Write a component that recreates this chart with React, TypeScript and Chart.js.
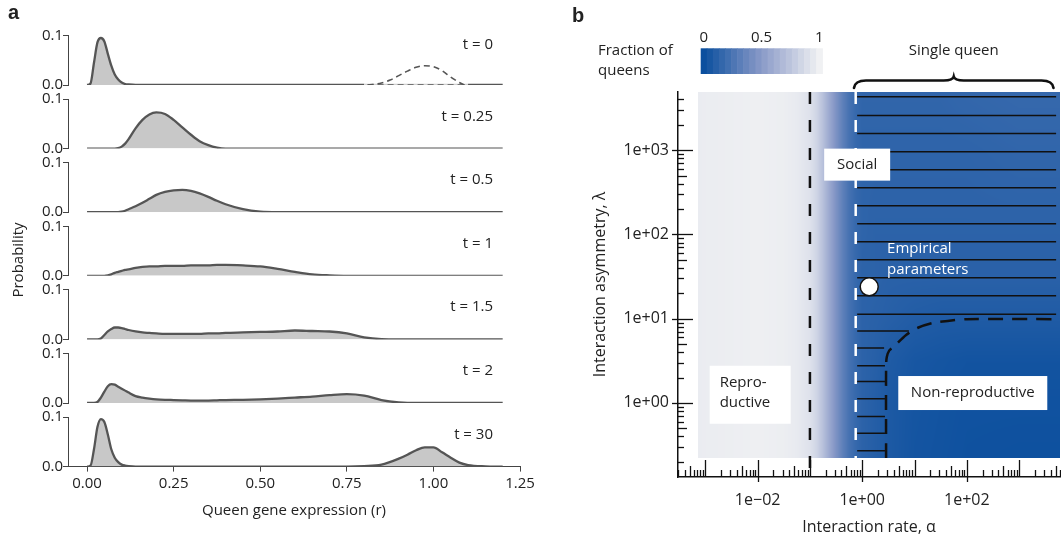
import React, { useEffect, useRef } from 'react';
import { Chart, registerables } from 'chart.js';

Chart.register(...registerables);

const FONT = '"Open Sans", "DejaVu Sans", sans-serif';
const BOLD_FONT = '"Liberation Sans", Arial, sans-serif';
const INK = '#222222';

// ---------------- Panel a data ----------------
const R_GRID = [0, 0.01, 0.02, 0.03, 0.04, 0.05, 0.06, 0.07, 0.08, 0.09, 0.10, 0.11, 0.12, 0.14, 0.16, 0.18, 0.20, 0.225, 0.25, 0.275, 0.30, 0.325, 0.35, 0.375, 0.40, 0.45, 0.50, 0.55, 0.60, 0.65, 0.70, 0.75, 0.80, 0.85, 0.90, 0.925, 0.95, 0.975, 1.00, 1.025, 1.05, 1.075, 1.10, 1.15, 1.20];
const T_LABELS = ['t = 0', 't = 0.25', 't = 0.5', 't = 1', 't = 1.5', 't = 2', 't = 30'];
const P_T0 = [0, 0.003, 0.045, 0.086, 0.095, 0.088, 0.063, 0.039, 0.021, 0.011, 0.005, 0.002, 0.001, 0, 0, 0, 0, 0, 0, 0, 0, 0, 0, 0, 0, 0, 0, 0, 0, 0, 0, 0, 0, 0, 0, 0, 0, 0, 0, 0, 0, 0, 0, 0, 0];
const P_T025 = [0, 0, 0, 0, 0, 0, 0, 0, 0, 0.001, 0.004, 0.010, 0.019, 0.041, 0.058, 0.069, 0.073, 0.070, 0.058, 0.043, 0.028, 0.015, 0.007, 0.002, 0, 0, 0, 0, 0, 0, 0, 0, 0, 0, 0, 0, 0, 0, 0, 0, 0, 0, 0, 0, 0];
const P_T05 = [0, 0, 0, 0, 0, 0, 0, 0, 0, 0, 0.001, 0.003, 0.006, 0.012, 0.019, 0.027, 0.035, 0.041, 0.044, 0.045, 0.043, 0.038, 0.031, 0.023, 0.016, 0.006, 0.001, 0, 0, 0, 0, 0, 0, 0, 0, 0, 0, 0, 0, 0, 0, 0, 0, 0, 0];
const P_T1 = [0, 0, 0, 0, 0, 0, 0.001, 0.003, 0.006, 0.008, 0.010, 0.012, 0.013, 0.016, 0.018, 0.019, 0.019, 0.020, 0.020, 0.020, 0.021, 0.021, 0.021, 0.022, 0.022, 0.021, 0.019, 0.014, 0.008, 0.003, 0.001, 0, 0, 0, 0, 0, 0, 0, 0, 0, 0, 0, 0, 0, 0];
const P_T15 = [0, 0, 0, 0, 0.002, 0.009, 0.016, 0.021, 0.024, 0.024, 0.023, 0.021, 0.019, 0.016, 0.014, 0.013, 0.012, 0.011, 0.011, 0.011, 0.011, 0.011, 0.012, 0.012, 0.013, 0.014, 0.015, 0.016, 0.018, 0.017, 0.016, 0.012, 0.004, 0.0005, 0, 0, 0, 0, 0, 0, 0, 0, 0, 0, 0];
const P_T2 = [0, 0, 0, 0.002, 0.011, 0.023, 0.034, 0.038, 0.037, 0.033, 0.029, 0.025, 0.021, 0.014, 0.011, 0.009, 0.0075, 0.0065, 0.006, 0.0055, 0.005, 0.005, 0.005, 0.0055, 0.006, 0.0065, 0.0075, 0.009, 0.011, 0.013, 0.016, 0.018, 0.015, 0.006, 0.001, 0, 0, 0, 0, 0, 0, 0, 0, 0, 0];
const P_T30 = [0, 0.002, 0.035, 0.080, 0.096, 0.090, 0.065, 0.035, 0.018, 0.009, 0.004, 0.002, 0.001, 0, 0, 0, 0, 0, 0, 0, 0, 0, 0, 0, 0, 0, 0, 0, 0, 0, 0, 0, 0.001, 0.004, 0.016, 0.024, 0.033, 0.039, 0.039, 0.029, 0.018, 0.008, 0.003, 0.0005, 0];
const DENSITIES = [P_T0, P_T025, P_T05, P_T1, P_T15, P_T2, P_T30];
// initial (dashed) distribution of t = 0
const T0_INITIAL_R = [0.81, 0.85, 0.875, 0.90, 0.925, 0.95, 0.975, 1.0, 1.025, 1.05, 1.075, 1.09];
const T0_INITIAL_P = [0, 0.004, 0.010, 0.019, 0.028, 0.036, 0.039, 0.037, 0.029, 0.016, 0.005, 0];
const R_TICKS = [0, 0.25, 0.5, 0.75, 1.0, 1.25];
const P_TICKS = [0, 0.1];

// ---------------- Panel b data ----------------
const X_MIN = 3.32e-4;
const X_MAX = 6050;
const Y_MIN = 0.132;
const Y_MAX = 4900;
const X_TICK_VALUES = [0.01, 1, 100];
const X_TICK_LABELS = ['1e\u221202', '1e+00', '1e+02'];
const Y_TICK_VALUES = [1, 10, 100, 1000];
const Y_TICK_LABELS = ['1e+00', '1e+01', '1e+02', '1e+03'];

const HEAT_ALPHA_MIN = 7.3e-4;
const HEAT_LAMBDA_MIN = 0.222;
const HEAT_LOG_ALPHA = [-3.25, -2, -1.5, -1.25, -1, -0.875, -0.75, -0.625, -0.5, -0.375, -0.25, -0.125, 0, 0.25, 0.5, 1, 1.5, 2, 3, 4];
const HEAT_LOG_LAMBDA = [-0.75, 0, 0.5, 1, 1.5, 2, 3, 3.75];
const HEAT_ROW_L_M075 = [0.97, 0.99, 0.98, 0.96, 0.91, 0.84, 0.72, 0.58, 0.45, 0.33, 0.23, 0.17, 0.13, 0.10, 0.07, 0.035, 0.025, 0.015, 0.01, 0.01];
const HEAT_ROW_L_0 = [0.97, 0.99, 0.98, 0.96, 0.91, 0.84, 0.72, 0.58, 0.45, 0.33, 0.23, 0.17, 0.13, 0.10, 0.07, 0.04, 0.03, 0.02, 0.02, 0.02];
const HEAT_ROW_L_05 = [0.97, 0.99, 0.98, 0.96, 0.91, 0.84, 0.72, 0.58, 0.45, 0.33, 0.23, 0.17, 0.13, 0.11, 0.08, 0.05, 0.04, 0.03, 0.03, 0.03];
const HEAT_ROW_L_1 = [0.97, 0.99, 0.98, 0.96, 0.91, 0.84, 0.72, 0.58, 0.45, 0.33, 0.23, 0.17, 0.13, 0.12, 0.11, 0.09, 0.08, 0.08, 0.08, 0.08];
const HEAT_ROW_L_15 = [0.97, 0.99, 0.98, 0.96, 0.91, 0.84, 0.72, 0.58, 0.45, 0.33, 0.23, 0.17, 0.13, 0.13, 0.12, 0.12, 0.12, 0.12, 0.12, 0.12];
const HEAT_ROW_L_2 = [0.97, 0.99, 0.98, 0.96, 0.91, 0.84, 0.72, 0.58, 0.45, 0.33, 0.23, 0.17, 0.14, 0.13, 0.13, 0.13, 0.13, 0.13, 0.13, 0.13];
const HEAT_ROW_L_3 = [0.97, 0.99, 0.98, 0.96, 0.91, 0.84, 0.72, 0.58, 0.45, 0.33, 0.23, 0.17, 0.14, 0.14, 0.14, 0.14, 0.14, 0.14, 0.15, 0.15];
const HEAT_ROW_L_375 = [0.97, 0.99, 0.98, 0.96, 0.91, 0.84, 0.72, 0.58, 0.45, 0.33, 0.23, 0.17, 0.15, 0.15, 0.15, 0.15, 0.15, 0.16, 0.17, 0.17];
const HEAT_VALUES = [HEAT_ROW_L_M075, HEAT_ROW_L_0, HEAT_ROW_L_05, HEAT_ROW_L_1, HEAT_ROW_L_15, HEAT_ROW_L_2, HEAT_ROW_L_3, HEAT_ROW_L_375];

const CMAP_STOPS = [0, 0.5, 1];
const CMAP_COLORS = [[11, 79, 158], [138, 154, 200], [240, 241, 243]];
const COLORBAR_BANDS = 20;
const COLORBAR_TICKS = [0, 0.5, 1];
const COLORBAR_TICK_LABELS = ['0', '0.5', '1'];

const REPRO_LIMIT_ALPHA = 0.1;
const SOCIAL_LIMIT_ALPHA = 0.75;
const BOUNDARY_ALPHA = [2.86, 2.86, 2.95, 3.3, 4.1, 6.9, 11.6, 22.4, 43, 100, 6050];
const BOUNDARY_LAMBDA = [0.222, 2.75, 3.5, 4.2, 4.7, 6.4, 7.8, 8.9, 9.4, 9.85, 9.87];
const HATCH_START_ALPHA = 0.8;
const HATCH_LAMBDA = [4306, 2584, 1578, 957, 585, 357, 219, 134, 81.7, 49.9, 30.5, 18.7, 11.3, 7.16, 4.47, 2.77, 1.79, 1.12, 0.688, 0.437, 0.271];
const HATCH_END_ALPHA = [5100, 5100, 5100, 5100, 5100, 5100, 5100, 5100, 5100, 5100, 5100, 5100, 5100, 7.8, 2.62, 2.72, 2.72, 2.72, 2.72, 2.72, 2.72];
const EMPIRICAL_ALPHA = 1.36;
const EMPIRICAL_LAMBDA = 23.9;
const BRACE_ALPHA = [0.695, 4550];

// ---------------- Panel a layout ----------------
const H = 537;
const PAGE_W = 1061;
const PANEL_A_W = 560;
const ROW_TOP0 = 35.5;
const ROW_PITCH = 63.6;
const ROW_PLOT_H = 49.5;

function rowDecor(i: number) {
  return {
    id: 'rowDecor' + i,
    afterDraw(chart: any) {
      const { ctx, chartArea } = chart;
      ctx.save();
      ctx.fillStyle = INK;
      ctx.font = `15px ${FONT}`;
      ctx.textAlign = 'right';
      ctx.textBaseline = 'middle';
      ctx.fillText(T_LABELS[i], chartArea.right - 27, chartArea.top + (i === 0 ? 9.5 : 17.3));
      if (i === 0) {
        ctx.font = `bold 20px ${BOLD_FONT}`;
        ctx.textAlign = 'left';
        ctx.textBaseline = 'alphabetic';
        ctx.fillText('a', 8, 18.5);
        ctx.save();
        ctx.translate(19, 260);
        ctx.rotate(-Math.PI / 2);
        ctx.font = `15px ${FONT}`;
        ctx.textAlign = 'center';
        ctx.textBaseline = 'middle';
        ctx.fillText('Probability', 0, 0);
        ctx.restore();
      }
      ctx.restore();
    },
  };
}

function rowConfig(i: number): any {
  const isLast = i === DENSITIES.length - 1;
  const top = ROW_TOP0 + ROW_PITCH * i;
  const bottom = top + ROW_PLOT_H;
  const datasets: any[] = [];
  if (i === 0) {
    datasets.push({
      data: T0_INITIAL_R.map((r, k) => ({ x: r, y: T0_INITIAL_P[k] })),
      borderColor: '#555', borderWidth: 1.6, borderDash: [6, 4], fill: false, pointRadius: 0,
      cubicInterpolationMode: 'monotone',
    });
    datasets.push({
      data: [{ x: T0_INITIAL_R[0], y: 0 }, { x: T0_INITIAL_R[T0_INITIAL_R.length - 1], y: 0 }],
      borderColor: '#555', borderWidth: 1.6, borderDash: [6, 4], fill: false, pointRadius: 0,
    });
  }
  datasets.push({
    data: R_GRID.map((r, k) => ({ x: r, y: DENSITIES[i][k] })),
    borderColor: '#555', borderWidth: 2.3, backgroundColor: '#c8c8c8', fill: 'origin', pointRadius: 0,
    cubicInterpolationMode: 'monotone',
    segment: i === 0 ? {
      borderColor: (ctx: any) => (ctx.p0.parsed.x >= T0_INITIAL_R[0] - 0.02 && ctx.p1.parsed.x <= T0_INITIAL_R[T0_INITIAL_R.length - 1] + 0.02 ? '#d0d0d0' : undefined),
    } : undefined,
  });
  const font = { family: FONT, size: 15 };
  const xScale: any = {
    type: 'linear', min: -0.055, max: 1.25, display: isLast,
    afterBuildTicks: (s: any) => { s.ticks = R_TICKS.map((v) => ({ value: v })); },
    ticks: { callback: (v: any) => Number(v).toFixed(2), font, color: INK, padding: 3, maxRotation: 0, autoSkip: false },
    grid: { display: true, drawOnChartArea: false, drawTicks: true, tickLength: 5, color: '#444' },
    border: { display: true, color: '#444', width: 1 },
    title: { display: true, text: 'Queen gene expression (r)', font, color: INK, padding: { top: 0, bottom: 17 } },
  };
  if (isLast) xScale.afterFit = (s: any) => { s.height = H - bottom; };
  return {
    type: 'line',
    data: { datasets },
    options: {
      animation: false, responsive: false, maintainAspectRatio: false, events: [],
      layout: { autoPadding: false, padding: { left: 0, right: 40, top, bottom: isLast ? 0 : H - bottom } },
      plugins: { legend: { display: false }, tooltip: { enabled: false } },
      scales: {
        x: xScale,
        y: {
          type: 'linear', min: 0, max: 0.1,
          afterBuildTicks: (s: any) => { s.ticks = P_TICKS.map((v) => ({ value: v })); },
          afterFit: (s: any) => { s.width = 68; },
          ticks: { callback: (v: any) => Number(v).toFixed(1), font, color: INK, padding: 0, autoSkip: false },
          grid: { display: true, drawOnChartArea: false, drawTicks: true, tickLength: 5, color: '#444' },
          border: { display: true, color: '#444', width: 1 },
        },
      },
    },
    plugins: [rowDecor(i)],
  };
}

// ---------------- Panel b helpers ----------------
const PANEL_B_LEFT = 560;
const PANEL_B_W = PAGE_W - PANEL_B_LEFT;

function logTicks(min: number, max: number) {
  const out: any[] = [];
  for (let d = Math.floor(Math.log10(min)); d <= Math.ceil(Math.log10(max)); d++) {
    for (let k = 1; k <= 9; k++) {
      const v = k * Math.pow(10, d);
      if (v >= min && v <= max) out.push({ value: v, major: k === 1 });
    }
  }
  return out;
}

function matchIndex(values: number[], v: number) {
  return values.findIndex((u) => Math.abs(Math.log10(u) - Math.log10(v)) < 1e-6);
}

function bracket(arr: number[], v: number): [number, number] {
  const n = arr.length;
  if (v <= arr[0]) return [0, 0];
  if (v >= arr[n - 1]) return [n - 2, 1];
  let j = 0;
  while (j < n - 2 && v >= arr[j + 1]) j++;
  return [j, (v - arr[j]) / (arr[j + 1] - arr[j])];
}

function cmap(v: number): number[] {
  let a: number[], b: number[], t: number;
  if (v <= CMAP_STOPS[1]) { a = CMAP_COLORS[0]; b = CMAP_COLORS[1]; t = (v - CMAP_STOPS[0]) / (CMAP_STOPS[1] - CMAP_STOPS[0]); }
  else { a = CMAP_COLORS[1]; b = CMAP_COLORS[2]; t = (v - CMAP_STOPS[1]) / (CMAP_STOPS[2] - CMAP_STOPS[1]); }
  t = Math.max(0, Math.min(1, t));
  return [0, 1, 2].map((k) => Math.round(a[k] + (b[k] - a[k]) * t));
}

function drawHeat(chart: any) {
  const { ctx, chartArea, scales } = chart;
  const xs = scales.x, ys = scales.y;
  const left = Math.round(xs.getPixelForValue(HEAT_ALPHA_MIN));
  const right = Math.round(chartArea.right);
  const top = Math.round(chartArea.top);
  const bottom = Math.round(ys.getPixelForValue(HEAT_LAMBDA_MIN));
  const w = right - left, h = bottom - top;
  if (w <= 0 || h <= 0) return;
  const off = document.createElement('canvas');
  off.width = w; off.height = h;
  const octx = off.getContext('2d') as CanvasRenderingContext2D;
  const img = octx.createImageData(w, h);
  const cols: [number, number][] = [];
  for (let i = 0; i < w; i++) cols.push(bracket(HEAT_LOG_ALPHA, Math.log10(xs.getValueForPixel(left + i + 0.5))));
  for (let j = 0; j < h; j++) {
    const [r, tr] = bracket(HEAT_LOG_LAMBDA, Math.log10(ys.getValueForPixel(top + j + 0.5)));
    const R0 = HEAT_VALUES[r], R1 = HEAT_VALUES[r + 1];
    for (let i = 0; i < w; i++) {
      const [c, tc] = cols[i];
      const v0 = R0[c] + (R0[c + 1] - R0[c]) * tc;
      const v1 = R1[c] + (R1[c + 1] - R1[c]) * tc;
      const col = cmap(v0 + (v1 - v0) * tr);
      const p = (j * w + i) * 4;
      img.data[p] = col[0]; img.data[p + 1] = col[1]; img.data[p + 2] = col[2]; img.data[p + 3] = 255;
    }
  }
  octx.putImageData(img, 0, 0);
  ctx.drawImage(off, left, top);
}

const ANNOTATIONS = [
  { lines: ['Social'], alpha: 0.80, lambda: 673, w: 66, h: 32, align: 'center', dy: 0 },
  { lines: ['Repro-', 'ductive'], alpha: 0.0072, lambda: 1.25, w: 81, h: 58, align: 'left', dy: -2 },
  { lines: ['Non-reproductive'], alpha: 130, lambda: 1.31, w: 149, h: 34, align: 'center', dy: 0 },
];

function drawBoxes(chart: any) {
  const { ctx, scales } = chart;
  const xs = scales.x, ys = scales.y;
  ctx.save();
  ctx.font = `15px ${FONT}`;
  ctx.textBaseline = 'middle';
  ANNOTATIONS.forEach((a) => {
    const cx = xs.getPixelForValue(a.alpha), cy = ys.getPixelForValue(a.lambda);
    ctx.fillStyle = '#ffffff';
    ctx.fillRect(cx - a.w / 2, cy - a.h / 2, a.w, a.h);
    ctx.fillStyle = INK;
    let tx = cx;
    if (a.align === 'left') { ctx.textAlign = 'left'; tx = cx - a.w / 2 + 10; } else { ctx.textAlign = 'center'; }
    a.lines.forEach((ln, k) => ctx.fillText(ln, tx, cy + a.dy + (k - (a.lines.length - 1) / 2) * 20.3));
  });
  ctx.fillStyle = '#ffffff';
  ctx.textAlign = 'left';
  const ex = xs.getPixelForValue(2.99), ey = ys.getPixelForValue(50.6);
  ctx.fillText('Empirical', ex, ey - 10.5);
  ctx.fillText('parameters', ex, ey + 10.5);
  ctx.restore();
}

function drawAxisTicks(chart: any) {
  const { ctx, chartArea, scales } = chart;
  const xs = scales.x, ys = scales.y;
  ctx.save();
  ctx.strokeStyle = '#111';
  ctx.lineWidth = 1.3;
  const ay = chartArea.bottom;
  xs.ticks.forEach((t: any) => {
    const v = t.value;
    const px = Math.round(xs.getPixelForValue(v)) + 0.5;
    const sig = Math.round(v / Math.pow(10, Math.floor(Math.log10(v) + 1e-9)));
    const len = sig === 1 ? 17 : sig === 5 ? 11 : 7;
    const labeled = matchIndex(X_TICK_VALUES, v) >= 0;
    ctx.beginPath();
    ctx.moveTo(px, ay + (labeled ? 5 : 0));
    ctx.lineTo(px, ay - len);
    ctx.stroke();
  });
  const ax = chartArea.left;
  ys.ticks.forEach((t: any) => {
    const v = t.value;
    const py = Math.round(ys.getPixelForValue(v)) + 0.5;
    const sig = Math.round(v / Math.pow(10, Math.floor(Math.log10(v) + 1e-9)));
    const len = sig === 1 ? 15 : sig === 5 ? 9 : 6;
    const labeled = matchIndex(Y_TICK_VALUES, v) >= 0;
    ctx.beginPath();
    ctx.moveTo(ax - (labeled ? 6 : 0), py);
    ctx.lineTo(ax + len, py);
    ctx.stroke();
  });
  ctx.restore();
}

function drawLegend(chart: any) {
  const { ctx, scales } = chart;
  const xs = scales.x;
  const L = PANEL_B_LEFT;
  ctx.save();
  ctx.fillStyle = INK;
  ctx.font = `bold 20px ${BOLD_FONT}`;
  ctx.textAlign = 'left';
  ctx.textBaseline = 'alphabetic';
  ctx.fillText('b', 572 - L, 22);

  ctx.font = `15px ${FONT}`;
  ctx.textBaseline = 'middle';
  ctx.fillText('Fraction of', 598 - L, 51);
  ctx.fillText('queens', 598 - L, 71);

  const cbx = 700.7 - L, cby = 48.3, cbw = 121.6, cbh = 25.7;
  const bw = cbw / COLORBAR_BANDS;
  for (let k = 0; k < COLORBAR_BANDS; k++) {
    const c = cmap(k / (COLORBAR_BANDS - 1));
    ctx.fillStyle = `rgb(${c[0]},${c[1]},${c[2]})`;
    ctx.fillRect(cbx + k * bw, cby, bw + 0.6, cbh);
  }
  ctx.fillStyle = INK;
  ctx.textAlign = 'center';
  COLORBAR_TICKS.forEach((v, k) => {
    ctx.fillText(COLORBAR_TICK_LABELS[k], cbx + bw / 2 + v * (cbw - bw), 38);
  });

  const xl = xs.getPixelForValue(BRACE_ALPHA[0]);
  const xr = xs.getPixelForValue(BRACE_ALPHA[1]);
  const xm = (xl + xr) / 2;
  const yTip = 88, yBar = 80.5, yMid = 76.5;
  ctx.strokeStyle = '#111';
  ctx.lineWidth = 2.6;
  ctx.lineCap = 'round';
  ctx.beginPath();
  ctx.moveTo(xl, yTip);
  ctx.quadraticCurveTo(xl + 1, yBar, xl + 12, yBar);
  ctx.lineTo(xm - 10, yBar);
  ctx.quadraticCurveTo(xm - 1, yBar, xm, yMid);
  ctx.quadraticCurveTo(xm + 1, yBar, xm + 10, yBar);
  ctx.lineTo(xr - 12, yBar);
  ctx.quadraticCurveTo(xr - 1, yBar, xr, yTip);
  ctx.stroke();
  ctx.fillStyle = INK;
  ctx.textAlign = 'center';
  ctx.fillText('Single queen', xm, 51);
  ctx.restore();
}

const panelBPlugin = {
  id: 'panelB',
  beforeDatasetsDraw(chart: any) { drawHeat(chart); },
  afterDatasetsDraw(chart: any) { drawBoxes(chart); },
  afterDraw(chart: any) { drawAxisTicks(chart); drawLegend(chart); },
};

function panelBConfig(): any {
  const hatchData: any[] = [];
  HATCH_LAMBDA.forEach((lam, k) => {
    hatchData.push({ x: HATCH_START_ALPHA, y: lam }, { x: HATCH_END_ALPHA[k], y: lam }, { x: null, y: null });
  });
  const font16 = { family: FONT, size: 16 };
  const clear = 'rgba(0,0,0,0)';
  return {
    type: 'scatter',
    data: {
      datasets: [
        { data: [{ x: EMPIRICAL_ALPHA, y: EMPIRICAL_LAMBDA }], pointRadius: 9, pointBackgroundColor: '#ffffff', pointBorderColor: '#111', pointBorderWidth: 1.5, showLine: false },
        { data: BOUNDARY_ALPHA.map((a, k) => ({ x: a, y: BOUNDARY_LAMBDA[k] })), showLine: true, borderColor: '#111', borderWidth: 2.5, borderDash: [15, 9], pointRadius: 0, tension: 0.3, fill: false },
        { data: [{ x: REPRO_LIMIT_ALPHA, y: Y_MAX }, { x: REPRO_LIMIT_ALPHA, y: Y_MIN }], showLine: true, borderColor: '#111', borderWidth: 2.5, borderDash: [12, 16], pointRadius: 0 },
        { data: [{ x: SOCIAL_LIMIT_ALPHA, y: Y_MAX }, { x: SOCIAL_LIMIT_ALPHA, y: HEAT_LAMBDA_MIN }], showLine: true, borderColor: '#ffffff', borderWidth: 2.5, borderDash: [12, 16], pointRadius: 0 },
        { data: hatchData, showLine: true, spanGaps: false, borderColor: '#111', borderWidth: 1.5, pointRadius: 0 },
      ],
    },
    options: {
      animation: false, responsive: false, maintainAspectRatio: false, events: [],
      layout: { autoPadding: false, padding: { left: 0, right: 1, top: 92, bottom: 0 } },
      plugins: { legend: { display: false }, tooltip: { enabled: false } },
      scales: {
        x: {
          type: 'logarithmic', position: 'bottom', min: X_MIN, max: X_MAX,
          afterBuildTicks: (s: any) => { s.ticks = logTicks(s.min, s.max); },
          afterFit: (s: any) => { s.height = 60; },
          ticks: {
            autoSkip: false, maxRotation: 0, minRotation: 0, padding: 0, color: INK, font: font16,
            callback: (v: any) => { const k = matchIndex(X_TICK_VALUES, Number(v)); return k >= 0 ? X_TICK_LABELS[k] : ''; },
          },
          grid: { display: true, drawOnChartArea: false, drawTicks: true, tickLength: 14, color: clear, tickColor: clear },
          border: { display: true, color: '#111', width: 1.5 },
          title: { display: true, text: 'Interaction rate, \u03b1', color: INK, font: font16, padding: { top: 0, bottom: 0 } },
        },
        y: {
          type: 'logarithmic', position: 'left', min: Y_MIN, max: Y_MAX,
          afterBuildTicks: (s: any) => { s.ticks = logTicks(s.min, s.max); },
          afterFit: (s: any) => { s.width = 118; },
          ticks: {
            autoSkip: false, padding: 0, color: INK, font: font16,
            callback: (v: any) => { const k = matchIndex(Y_TICK_VALUES, Number(v)); return k >= 0 ? Y_TICK_LABELS[k] : ''; },
          },
          grid: { display: true, drawOnChartArea: false, drawTicks: true, tickLength: 9, color: clear, tickColor: clear },
          border: { display: true, color: '#111', width: 1.5 },
          title: { display: true, text: 'Interaction asymmetry, \u03bb', color: INK, font: font16, padding: { top: 31, bottom: 0 } },
        },
      },
    },
    plugins: [panelBPlugin],
  };
}

export default function App() {
  const rowRefs = useRef<(HTMLCanvasElement | null)[]>([]);
  const bRef = useRef<HTMLCanvasElement | null>(null);
  useEffect(() => {
    const charts: Chart[] = [];
    DENSITIES.forEach((_, i) => {
      const c = rowRefs.current[i];
      if (c) charts.push(new Chart(c, rowConfig(i)));
    });
    if (bRef.current) charts.push(new Chart(bRef.current, panelBConfig()));
    return () => charts.forEach((c) => c.destroy());
  }, []);
  return (
    <div style={{ position: 'fixed', left: 0, top: 0, width: PAGE_W, height: H, background: '#ffffff', overflow: 'hidden' }}>
      {DENSITIES.map((_, i) => (
        <canvas
          key={i}
          ref={(el) => { rowRefs.current[i] = el; }}
          width={PANEL_A_W}
          height={H}
          style={{ position: 'absolute', left: 0, top: 0, width: PANEL_A_W, height: H }}
        />
      ))}
      <canvas
        ref={bRef}
        width={PANEL_B_W}
        height={H}
        style={{ position: 'absolute', left: PANEL_B_LEFT, top: 0, width: PANEL_B_W, height: H }}
      />
    </div>
  );
}
